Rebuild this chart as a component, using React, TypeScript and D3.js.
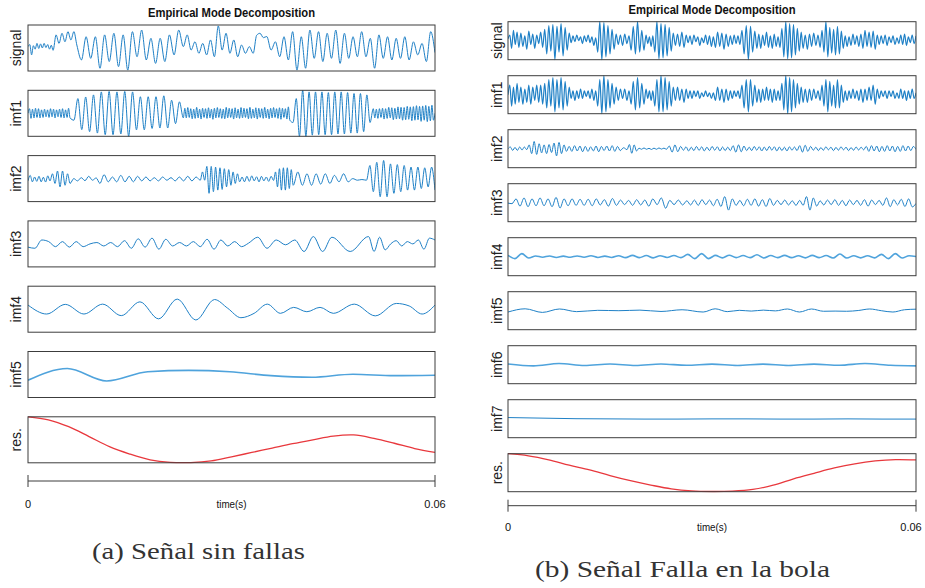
import React from 'react'
import * as d3 from 'd3'

// each series: list of [end time (ms), extrema evenly spaced up to that time]
// values are in % of the panel half-range (-100 .. 100)
type Seg = [number, number[]]

const leftLabels = ['signal', 'imf1', 'imf2', 'imf3', 'imf4', 'imf5', 'res.']
const rightLabels = ['signal', 'imf1', 'imf2', 'imf3', 'imf4', 'imf5', 'imf6', 'imf7', 'res.']
const tickLabels = ['0', '0.06']
const tickValues = [0, 0.06]

const leftSignal: Seg[] = [
  [0, [6]],
  [3.7, [15, -30, 10, -5, 20, -2, 18, 0, 20, 2, 15, -5, 12, -10]],
  [7.2, [57, 20, 64, 27, 71, 35, 71, 13]],
  [22.9, [-52, 49, -45, 49, -88, 57, -59, 64, -81, 57, -96, 71, -38, 78, -52, 42, -67, 42, -59, 57, -30, 78, 6]],
  [33.2, [57, -9, 27, -23, 20, -30, 35, -38, 96, -9, 64, -23, 35, -38, 13, -23, 6, -23]],
  [35.2, [55, 64, 45, 50]],
  [60, [-9, 27, -38, 49, -52, 71, -96, 49, -88, 78, -45, 71, -59, 64, -45, 78, -67, 64, -45, 49, -38, 71, -38, 42, -88, 57, -45, 49, -52, 42, -45, 49, -52, 27, -30, 20, -59, 71, -20]]
]

const leftImf1: Seg[] = [
  [0, [0]],
  [6.2, [20, -22, 18, -20, 22, -18, 20, -20, 15, -18, 18, -15, 15, -18, 20, -15, 18, -20, 15, -15, 18, -18, 20, -20, 15, -18, 22, -20]],
  [22.9, [-30, 64, -71, 71, -80, 80, -86, 93, -93, 95, -93, 93, -90, 95, -100, 93, -72, 72, -72, 72, -66, 72, -64, 76, -64, 57, -45, 50, -20]],
  [38.6, [22, -20, 25, -18, 20, -24, 18, -22, 26, -20, 18, -25, 22, -18, 20, -22, 24, -20, 18, -26, 22, -20, 25, -18, 20, -22, 18, -24, 26, -20, 22, -18, 20, -25, 24, -20, 18, -22, 25, -20, 22, -18, 20, -24, 26, -22, 18, -20, 24, -25, 22, -18, 20, -22, 26, -20, 18, -24, 22, -20, 25, -18, 20, -22, 24, -26, 22, -18, 20, -25, 28, -30]],
  [50.9, [-40, 64, -100, 100, -100, 93, -95, 93, -93, 93, -93, 90, -93, 93, -90, 93, -90, 90, -86, 86, -86, 86, -80, 80, -40, 20]],
  [60, [-20, 18, -22, 20, -18, 22, -25, 20, -22, 26, -20, 24, -28, 22, -25, 28, -24, 26, -30, 25, -28, 30, -26, 28, -32, 29, -30, 33, -28, 30, -35, 32, -30, 34, -36, 30, -33, 35, -30, 0]]
]

const leftImf2: Seg[] = [
  [0, [-10]],
  [3.24, [14, -14, 7, -12, 10, -14, 6, -15, 12, -10]],
  [6.2, [21, -21, 33, -36, 33, -29, 21, -21]],
  [10.6, [0, -10, 4, -9, 10, -7, 3, -21]],
  [25.4, [17, -14, 7, -14, 14, -14, 10, -14, 10, -10, 7, -10, 4, -10, 7, -7, 4, -10, 7, -10, 10, -10, 7, -7]],
  [31.2, [29, -7, 53, -64, 53, -57, 50, -50, 47, -47, 43, -36, 39, -29, 29, -21, 21, -14]],
  [36.2, [7, -14, 10, -12, 12, -10, 8, -14, 10, -10, 7, -12, 10, -8]],
  [39.1, [29, -36, 43, -50, 47, -50, 47, -43, 39, -29]],
  [49.9, [29, -29, 21, -29, 21, -24, 21, -21, 14, -14, 21, -14, 0, -7, -4, -7]],
  [60, [57, -57, 71, -79, 79, -79, 64, -64, 61, -57, 57, -50, 50, -50, 50, -43, 47, -36, 50, -50]]
]

const leftImf3: Seg[] = [
  [0, [-14]],
  [32.5, [-19, 17, 10, -12, 10, -14, 10, -12, 0, 6, -9, 6, -12, 14, -19, 22, -14, 25, -23, 20, -9, 6, -9, 10, -12, 20, -23, 17, -9, 10, -12, 3]],
  [44.8, [29, -19, 17, -4, 17, -33, 32, -33, 29]],
  [50.2, [-33, 32]],
  [60, [-33, 29, -26, 0, 14, -9, 10, 0, 17, -23, 25, 17]]
]

const leftImf4: Seg[] = [
  [0, [18]],
  [27.5, [-21, 21, -21, 22, -28, 32, -42, 44, -47, 42]],
  [45.0, [4, -37, -18, 22, -18, 8, -11, 8, -18]],
  [54.3, [22, -29, 25]],
  [60, [14, -21, 18]]
]

const leftImf5: Seg[] = [
  [0, [-25]],
  [11.6, [26, -28]],
  [60, [12, 18, 12, -5, -12, 1, -5, -3]]
]

const leftRes: Seg[] = [
  [0, [100]],
  [60, [87, 57, 14, -30, -62, -87, -98, -99, -92, -74, -55, -36, -17, 0, 16, 21, 6, -15, -38, -55]]
]

const rightSignal: Seg[] = [
  [0, [10]],
  [1.6, [30, -40, 55, -20, 45, -35]],
  [5.1, [40, -30, 25, -45, 50, -20, 35, -40, 30, -15, 45, -35]],
  [9.0, [60, -70, 80, -55, 85, -100, 75, -60, 90, -80, 70, -50, 40]],
  [12.9, [-10, 25, -5, 30, 0, 20, -15, 25, -5, 30, -10, 20, -25, 15]],
  [15.9, [-60, 100, -100, 95, -85, 80, -70, 60, -45, 35]],
  [17.8, [-20, 30, -25, 35, -15, 25]],
  [20.3, [-50, 75, -70, 100, -60, 55, -50, 30]],
  [21.3, [-15, 20, -30, 25]],
  [24.3, [-60, 100, -95, 90, -90, 85, -80, 70, -55, 40]],
  [26.2, [-25, 35, -30, 45, -35, 30]],
  [30.2, [-10, 25, -20, 30, -5, 20, -25, 15, -10, 30, -20, 25, -30, 20]],
  [32.7, [-35, 45, -30, 40, -45, 35, -30, 25]],
  [34.1, [-20, 30, -15, 25, -20]],
  [36.6, [55, -70, 80, -100, 75, -60, 50, -40]],
  [40.0, [35, -40, 30, -25, 45, -35, 25, -40, 35, -30, 20, -35]],
  [43.4, [65, -85, 100, -95, 90, -90, 85, -75, 65, -55, 45, -40]],
  [45.9, [30, -45, 35, -30, 40, -25, 30, -35]],
  [49.3, [55, -60, 100, -85, 70, -65, 60, -75, 75, -70, 50, -40]],
  [51.3, [25, -30, 20, -25, 35, -20, 25]],
  [54.3, [-30, 35, -40, 55, -30, 45, -35, 50, -45, 30]],
  [57.2, [-20, 25, -15, 30, -25, 20, -10, 25, -20, 15]],
  [60, [-15, 30, -20, 35, -25, 20, -10, 30, -15, 25]]
]

const rightImf1: Seg[] = [
  [0, [0]],
  [1.6, [50, -60, 40, -50, 60, -40]],
  [5.1, [40, -50, 30, -40, 50, -50, 40, -30, 50, -40, 50, -50]],
  [9.0, [60, -70, 80, -60, 90, -90, 80, -70, 90, -80, 70, -60, 40]],
  [12.9, [-20, 20, -30, 20, -20, 30, -20, 20, -10, 20, -20, 30, -30, 20]],
  [15.9, [-60, 80, -100, 100, -90, 80, -70, 60, -50, 40]],
  [17.8, [-30, 30, -20, 30, -30, 20]],
  [20.3, [-50, 70, -80, 90, -70, 60, -50, 30]],
  [21.3, [-20, 20, -30, 20]],
  [24.3, [-60, 80, -90, 100, -90, 90, -80, 70, -60, 40]],
  [26.2, [-30, 40, -30, 30, -40, 30]],
  [30.2, [-20, 20, -20, 20, -10, 20, -20, 10, -10, 20, -10, 10, -20, 10]],
  [32.7, [-30, 40, -30, 30, -40, 30, -30, 20]],
  [34.1, [-20, 20, -10, 20, -20]],
  [36.6, [50, -70, 80, -90, 80, -60, 50, -40]],
  [40.0, [30, -40, 30, -30, 40, -30, 30, -40, 30, -30, 20, -30]],
  [43.4, [60, -80, 100, -100, 90, -90, 80, -70, 60, -50, 40, -40]],
  [45.9, [30, -40, 30, -30, 30, -20, 20, -30]],
  [49.3, [50, -60, 80, -90, 70, -60, 50, -70, 80, -70, 50, -40]],
  [51.3, [20, -30, 20, -20, 30, -20, 20]],
  [54.3, [-30, 30, -40, 30, -30, 40, -30, 50, -50, 30]],
  [57.2, [-20, 20, -10, 20, -20, 20, -10, 20, -20, 10]],
  [60, [-20, 30, -20, 20, -30, 20, -20, 30, -20, 10]]
]

const rightImf2: Seg[] = [
  [0, [0]],
  [2.75, [9, -9, 7, -9, 9, -7, 9, -5]],
  [8.6, [20, -26, 38, -30, 26, -22, 20, -26, 22, -20, 30, -38, 33, -26, 20, -14]],
  [16.5, [12, -14, 16, -12, 14, -16, 12, -14, 10, -12, 14, -16, 12, -10, 14, -12, 16, -14, 12, -10]],
  [17.5, [5, -5]],
  [18.9, [22, -24, 20, -12]],
  [23.3, [3, -3, 4, -3, 2, -4, 3, -3, 4, -2, 3, -3]],
  [25.8, [14, -18, 20, -16, 12, -8]],
  [32.7, [10, -12, 8, -10, 12, -9, 10, -12, 8, -10, 12, -8, 10, -12, 9, -10, 8, -10]],
  [35.1, [16, -18, 20, -16, 14, -10]],
  [42.5, [8, -10, 12, -8, 10, -12, 9, -10, 12, -8, 10, -12, 9, -10, 8, -12, 10, -8, 9, -10]],
  [44.9, [16, -18, 18, -14, 12, -8]],
  [52.3, [8, -10, 6, -8, 10, -6, 8, -10, 7, -8, 10, -6, 8, -10, 6, -8, 9, -7, 8, -6]],
  [60, [12, -14, 16, -12, 14, -16, 12, -14, 16, -12, 14, -16, 12, -14, 16, -12, 14, -10, 12, -4]]
]

const rightImf3: Seg[] = [
  [0, [-2]],
  [10.6, [-5, 20, -18, 25, -21, 20, -16, 25, -16, 20, -21, 28, -28, 20, -16, 20, -14, 18]],
  [21.3, [-14, 18, -16, 20, -12, 16, -18, 22, -14, 14, -10, 12, -14, 16, -12, 14, -18, 20]],
  [26.3, [-10, 25, -29, 12, -10, 14, -12, 10]],
  [34.1, [-12, 14, -14, 16, -10, 14, -16, 18, -20, 32, -39, 20, -14, 12]],
  [42.9, [-16, 18, -14, 20, -18, 16, -20, 22, -14, 12, -10, 14, -12, 10, -14, 12]],
  [45.9, [-14, 32, -39, 25, -18, 10]],
  [60, [-12, 14, -10, 16, -14, 12, -16, 14, -10, 12, -14, 16, -18, 14, -10, 12, -14, 25, -21, 16, -12, 18, -20, 20, -22, -4]]
]

const rightImf4: Seg[] = [
  [0, [7]],
  [60, [-10, 16, -7, 4, -3, 4, -4, 3, -3, 4, -3, 5, -4, 3, -4, 5, -5, 7, -5, 6, -6, 5, -4, 6, -5, 12, -10, 16, -10, 7, -6, 8, -5, 6, -5, 10, -7, 6, -5, 7, -5, 5, -6, 7, -5, 6, -7, 14, -7, 5, -6, 5, -6, 12, -10, 16, -7, 5, 1]]
]

const rightImf5: Seg[] = [
  [0, [-7]],
  [10.1, [10, -9, 9, -5]],
  [28.7, [2, 0, 3, -4, 5, -7]],
  [46.4, [10, -5, 2, -2, 3, -1, 9, -7, 9, -3]],
  [60, [-2, -3, 1, 9, 0, -7, 5, 8]]
]

const rightImf6: Seg[] = [
  [0, [4]],
  [60, [-6, 6, -4, 4, -4, 4, -3, 3, -4, 3, -4, 3, -3, 6, -3, -6]]
]

const rightImf7: Seg[] = [
  [0, [6]],
  [60, [3, 0, -1, -2, -2, -1, -1, -2, -2, -1, -2, -2]]
]

const rightRes: Seg[] = [
  [0, [100]],
  [60, [89, 68, 40, 15, -15, -42, -65, -85, -96, -99, -97, -88, -66, -32, -3, 25, 47, 62, 69, 67]]
]

const leftSeries = [leftSignal, leftImf1, leftImf2, leftImf3, leftImf4, leftImf5, leftRes]
const rightSeries = [rightSignal, rightImf1, rightImf2, rightImf3, rightImf4, rightImf5, rightImf6, rightImf7, rightRes]

function expand(segs: Seg[]): [number, number][] {
  const pts: [number, number][] = []
  let start = 0
  segs.forEach(([end, vals]) => {
    const step = (end - start) / vals.length
    vals.forEach((v, i) => pts.push([end === start ? start : start + step * (i + 1), v]))
    start = end
  })
  return pts
}

const BLUE = '#1f80c6'
const LIGHT = '#4fa3dc'
const RED = '#e8383d'
const BOX = '#3c3c3c'
const SANS = 'Liberation Sans, Arial, sans-serif'

type Layout = {
  id: string
  x0: number
  x1: number
  top: number
  step: number
  h: number
  labelX: number
  axisY: number
  tickLabelY: number
  titleY: number
  captionY: number
  captionX: number
  captionW: number
  dense: string[]
  light: string[]
}

function Column({ labels, series, layout, caption }: {
  labels: string[]
  series: Seg[][]
  layout: Layout
  caption: string
}) {
  const { x0, x1, top, step, h } = layout
  const x = d3.scaleLinear().domain([0, 60]).range([x0, x1])
  const xs = d3.scaleLinear().domain([0, 0.06]).range([x0, x1])
  const midX = (x0 + x1) / 2

  return (
    <g>
      <text x={midX} y={layout.titleY} textAnchor="middle" fontFamily={SANS} fontWeight="bold" fontSize={12.5}
        textLength={167} lengthAdjust="spacingAndGlyphs" fill="#111">Empirical Mode Decomposition</text>
      {series.map((segs, i) => {
        const yTop = top + i * step
        const label = labels[i]
        const isRes = label === 'res.'
        const isLight = layout.light.includes(label)
        const isDense = layout.dense.includes(label)
        const y = d3.scaleLinear().domain([-100, 100]).range([yTop + h, yTop])
        const line = d3.line<[number, number]>().x(d => x(d[0])).y(d => y(d[1]))
          .curve(isRes ? d3.curveCatmullRom.alpha(0.5) : d3.curveMonotoneX)
        const clipId = `clip-${layout.id}-${i}`
        return (
          <g key={label}>
            <clipPath id={clipId}>
              <rect x={x0} y={yTop - 1} width={x1 - x0} height={h + 2} />
            </clipPath>
            <path d={line(expand(segs)) || ''} fill="none" clipPath={`url(#${clipId})`}
              stroke={isRes ? RED : isLight ? LIGHT : BLUE}
              strokeWidth={isRes ? 1.3 : isLight ? 1.6 : isDense ? 1.2 : 1} strokeLinejoin="round" />
            <rect x={x0} y={yTop} width={x1 - x0} height={h} fill="none" stroke={BOX} strokeWidth={1} />
            <text transform={`translate(${layout.labelX},${yTop + h / 2}) rotate(-90)`} textAnchor="middle"
              fontFamily={SANS} fontSize={14} fill="#222">{label}</text>
          </g>
        )
      })}
      <line x1={x0} x2={x1} y1={layout.axisY} y2={layout.axisY} stroke={BOX} strokeWidth={1} />
      {tickValues.map((t, i) => (
        <g key={t}>
          <line x1={xs(t)} x2={xs(t)} y1={layout.axisY - 6} y2={layout.axisY + 6} stroke={BOX} strokeWidth={1} />
          <text x={Math.min(xs(t), 911)} y={layout.tickLabelY} textAnchor="middle" fontFamily={SANS} fontSize={11} fill="#111">{tickLabels[i]}</text>
        </g>
      ))}
      <text x={midX} y={layout.tickLabelY} textAnchor="middle" fontFamily={SANS} fontSize={11}
        textLength={30} lengthAdjust="spacingAndGlyphs" fill="#111">time(s)</text>
      <text x={layout.captionX} y={layout.captionY} textAnchor="middle" fontFamily="'Liberation Serif', serif"
        fontSize={24} textLength={layout.captionW} lengthAdjust="spacingAndGlyphs" fill="#333">{caption}</text>
    </g>
  )
}

export default function App() {
  const left: Layout = {
    id: 'a', x0: 28, x1: 435, top: 25, step: 65.3, h: 46, labelX: 21,
    axisY: 481, tickLabelY: 507.5, titleY: 17.3, captionY: 559, captionX: 198.5, captionW: 213,
    dense: [], light: ['imf5']
  }
  const right: Layout = {
    id: 'b', x0: 508, x1: 916, top: 21.7, step: 54, h: 38, labelX: 502,
    axisY: 505.7, tickLabelY: 530.5, titleY: 14, captionY: 577, captionX: 682.5, captionW: 295,
    dense: ['signal', 'imf1'], light: ['imf4', 'imf6']
  }
  return (
    <svg width={925} height={588} viewBox="0 0 925 588" style={{ position: 'absolute', left: 0, top: 0, background: '#fff' }}>
      <rect x={0} y={0} width={925} height={588} fill="#fff" />
      <Column labels={leftLabels} series={leftSeries} layout={left} caption="(a) Señal sin fallas" />
      <Column labels={rightLabels} series={rightSeries} layout={right} caption="(b) Señal Falla en la bola" />
    </svg>
  )
}
